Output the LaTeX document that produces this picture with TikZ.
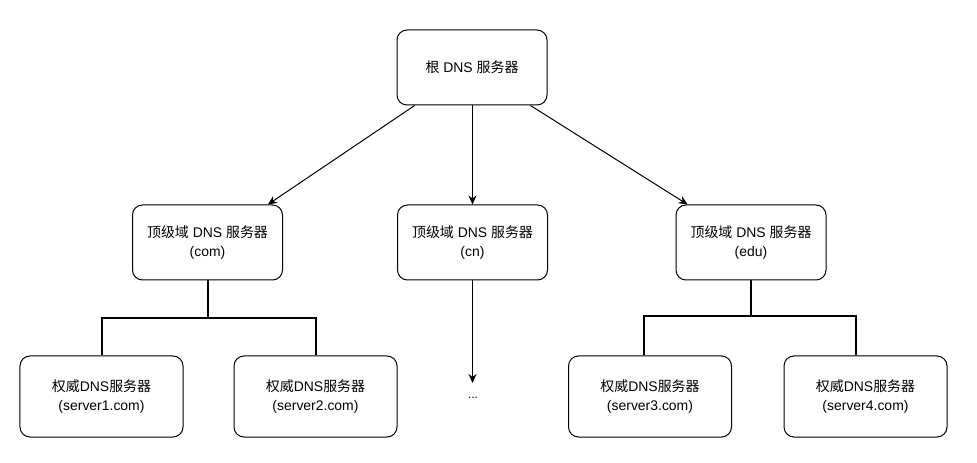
\documentclass[tikz,border=0pt]{standalone}
\usepackage{fontspec}
\setmainfont{Liberation Sans}
\newfontfamily\cjk{Noto Sans CJK SC}
\usetikzlibrary{arrows.meta,calc}
\begin{document}
\begin{tikzpicture}[x=1bp,y=-1bp,
  box/.style={draw=black,line width=1bp,rounded corners=10bp,fill=white,align=center,
    font=\fontsize{14}{19}\selectfont,inner sep=0pt},
  tld/.style={box,minimum width=150bp,minimum height=75bp},
  auth/.style={box,minimum width=163bp,minimum height=81bp},
  arr/.style={line width=1bp,-{Stealth[length=9bp,width=8bp]}},
  tree/.style={line width=2bp}]
\useasboundingbox (0,0) rectangle (977,463);
\node[tld] (root) at (472,67.5) {{\cjk 根} DNS {\cjk 服务器}};
\node[tld] (com) at (207.5,242.5) {{\cjk 顶级域} DNS {\cjk 服务器}\\(com)};
\node[tld] (cn) at (472.5,242.5) {{\cjk 顶级域} DNS {\cjk 服务器}\\(cn)};
\node[tld] (edu) at (751,242.5) {{\cjk 顶级域} DNS {\cjk 服务器}\\(edu)};
\node[auth] (s1) at (101.5,396.5) {{\cjk 权威}DNS{\cjk 服务器}\\(server1.com)};
\node[auth] (s2) at (315.5,396.5) {{\cjk 权威}DNS{\cjk 服务器}\\(server2.com)};
\node[auth] (s3) at (650,396.5) {{\cjk 权威}DNS{\cjk 服务器}\\(server3.com)};
\node[auth] (s4) at (865.5,396.5) {{\cjk 权威}DNS{\cjk 服务器}\\(server4.com)};
\node[font=\fontsize{12}{16}\selectfont,inner sep=0pt] (dots) at (473,398) {...};
\coordinate (dtop) at (472.5,383);
\draw[arr] ($(root.south west)!0.12!(root.south east)$) -- ($(com.north west)!0.9!(com.north east)$);
\draw[arr] (root.south -| cn.north) -- (cn.north);
\draw[arr] ($(root.south west)!0.887!(root.south east)$) -- ($(edu.north west)!0.08!(edu.north east)$);
\draw[arr] (cn.south) -- (dtop);
\draw[tree] (com.south) -- ++(0,37.5) coordinate (cj);
\draw[tree] (s1.north) |- (cj) -| (s2.north);
\draw[tree] (edu.south) -- ++(0,35.5) coordinate (ej);
\coordinate (s3t) at ($(s3.north)+(-6,0)$);
\coordinate (s4t) at ($(s4.north)+(-9.5,0)$);
\draw[tree] (s3t) |- (ej) -| (s4t);
\end{tikzpicture}
\end{document}
